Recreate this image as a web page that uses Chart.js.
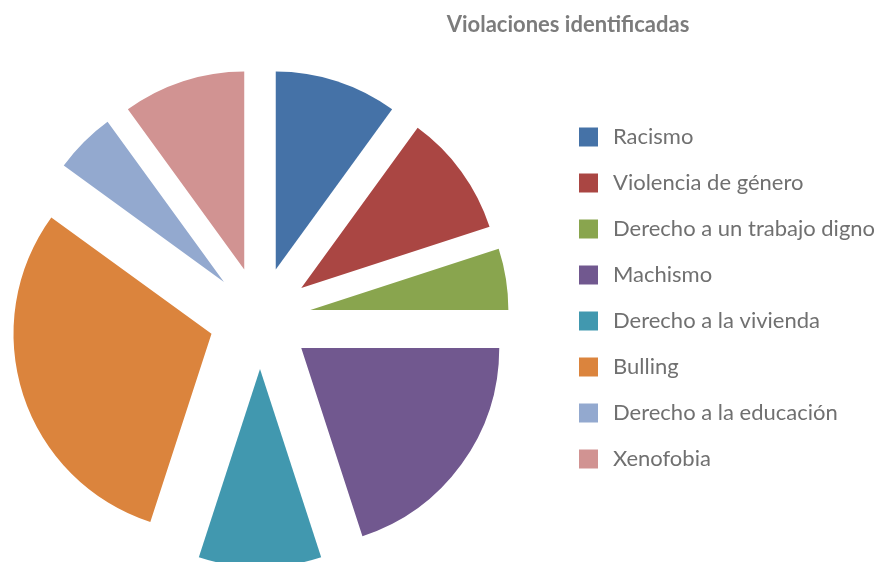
<!DOCTYPE html>
<html>
<head>
<meta charset="utf-8">
<script src="https://cdn.jsdelivr.net/npm/chart.js@4.4.0/dist/chart.umd.min.js"></script>
<style>
  html, body { margin: 0; padding: 0; background: #fff; }
  /* the original chart is cropped on the left and bottom, so the canvas
     sits a bit outside the visible frame */
  #frame { position: relative; width: 878px; height: 562px; overflow: hidden; }
  #wrap { position: absolute; left: -36px; top: 0; width: 914px; height: 562px; }
</style>
</head>
<body>
<div id="frame"><div id="wrap"><canvas id="pieViolaciones"></canvas></div></div>
<script>
// data (share of answers, %)
var categories = [
  "Racismo",
  "Violencia de género",
  "Derecho a un trabajo digno",
  "Machismo",
  "Derecho a la vivienda",
  "Bulling",
  "Derecho a la educación",
  "Xenofobia"
];
var values = [10, 10, 5, 20, 10, 30, 5, 10];
var sliceColors = ['#4572A7', '#AA4643', '#89A54E', '#71588F', '#4198AF', '#DB843D', '#93A9CF', '#D19392'];
var chartTitle = "Violaciones identificadas";

var frameShift = 36;   // px the canvas is pushed out to the left
var pieRadius = 198;   // px
var explode = 51;      // px each slice is pulled out
var legendFont = { family: 'Lato', size: 22 };

// measure the widest label so the legend lands where the original one is
var canvas = document.getElementById("pieViolaciones");
var mctx = canvas.getContext('2d');
mctx.font = legendFont.size + 'px ' + legendFont.family;
var widest = 0;
categories.forEach(function (c) { widest = Math.max(widest, mctx.measureText(c).width); });

// chart.js grows and narrows small exploded slices; undo that so every
// slice keeps the same radius and its own angle (excel style explode)
var evenExplode = {
  id: 'evenExplode',
  afterDatasetsUpdate: function (chart) {
    chart.getDatasetMeta(0).data.forEach(function (arc) {
      var fix = 1 - Math.sin(Math.min(Math.PI, arc.circumference));
      var grow = explode * fix;
      arc.outerRadius = pieRadius - grow;
      var trim = grow / Math.PI / pieRadius / 2;
      arc.startAngle -= trim;
      arc.endAngle += trim;
    });
  }
};

var titleText = {
  id: 'titleText',
  afterDraw: function (chart) {
    var ctx = chart.ctx;
    ctx.save();
    ctx.font = 'bold 22px Lato';
    ctx.fillStyle = '#7c7c7c';
    ctx.textAlign = 'center';
    ctx.textBaseline = 'alphabetic';
    ctx.fillText(chartTitle, 568 + frameShift, 32);
    ctx.restore();
  }
};

var pieConfig = {
  type: 'pie',
  data: {
    labels: categories,
    datasets: [{
      data: values,
      backgroundColor: sliceColors,
      borderWidth: 0,
      offset: explode * 4
    }]
  },
  options: {
    responsive: true,
    maintainAspectRatio: false,
    animation: false,
    events: [],
    radius: pieRadius,
    layout: {
      padding: { left: 0, right: 255 - widest, top: 104.5, bottom: 30.5 }
    },
    plugins: {
      title: { display: false },
      tooltip: { enabled: false },
      legend: {
        position: 'right',
        align: 'start',
        labels: {
          font: legendFont,
          color: '#707070',
          boxWidth: 27,
          boxHeight: 27,
          padding: 19,
          generateLabels: function (chart) {
            var items = Chart.overrides.pie.plugins.legend.labels.generateLabels(chart);
            items.forEach(function (it) {
              it.strokeStyle = '#ffffff';
              it.lineWidth = 8;
            });
            return items;
          }
        }
      }
    }
  },
  plugins: [evenExplode, titleText]
};

var pieObj = new Chart(canvas, pieConfig);
</script>
</body>
</html>
